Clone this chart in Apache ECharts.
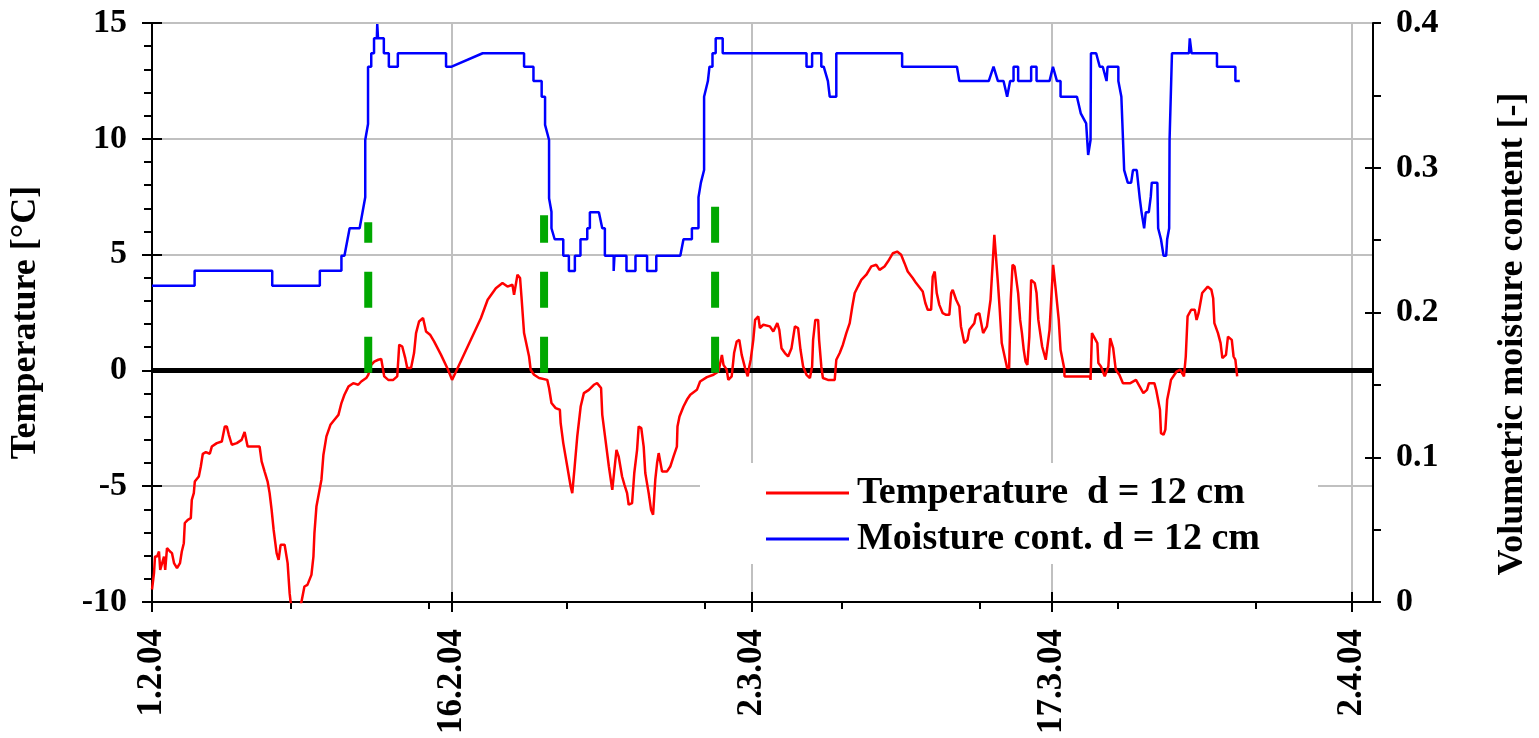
<!DOCTYPE html>
<html><head><meta charset="utf-8">
<script src="https://cdn.jsdelivr.net/npm/echarts@6.0.0/dist/echarts.min.js"></script>
<style>html,body{margin:0;padding:0;background:#fff}#chart{width:1539px;height:738px}</style>
</head><body><div id="chart"></div>
<script>
// ---- data (x in days since 1.2.04) ----
const xTickDays = [0, 15, 30, 45, 60];
const xTickLabels = ['1.2.04', '16.2.04', '2.3.04', '17.3.04', '2.4.04'];
const xMinorTickDays = [6.95, 13.85, 20.75, 27.65, 34.5, 41.4, 48.3, 55.2];
const X_MAX = 61.04;
const seriesNames = ['Temperature  d = 12 cm', 'Moisture cont. d = 12 cm'];

const temperature = [
[0,-9.46],[0.10,-8.75],[0.15,-8.04],[0.25,-8.04],[0.35,-7.82],[0.41,-8.61],[0.50,-8.61],[0.60,-8.04],[0.66,-8.61],[0.75,-7.67],[0.90,-7.82],[1.00,-7.89],[1.10,-8.32],[1.25,-8.54],[1.40,-8.32],[1.49,-7.82],[1.59,-7.46],[1.64,-6.59],[1.79,-6.45],[1.94,-6.38],[1.99,-5.59],[2.09,-5.30],[2.14,-4.80],[2.34,-4.58],[2.44,-4.15],[2.54,-3.60],[2.69,-3.53],[2.89,-3.60],[2.99,-3.29],[3.24,-3.14],[3.49,-3.07],[3.64,-2.42],[3.74,-2.42],[3.84,-2.78],[3.99,-3.21],[4.24,-3.14],[4.48,-3.00],[4.63,-2.66],[4.78,-3.29],[5.38,-3.29],[5.48,-3.93],[5.63,-4.37],[5.78,-4.80],[5.88,-5.30],[5.98,-6.02],[6.08,-6.88],[6.23,-7.89],[6.33,-8.18],[6.43,-7.53],[6.63,-7.53],[6.78,-8.32],[6.88,-9.62],[6.93,-10.0],[7.08,-10.4],[7.32,-10.4],[7.47,-10.0],[7.62,-9.33],[7.77,-9.26],[7.97,-8.83],[8.07,-8.04],[8.12,-7.03],[8.22,-5.88],[8.47,-4.72],[8.57,-3.64],[8.72,-2.85],[8.92,-2.35],[9.12,-2.13],[9.32,-1.92],[9.47,-1.41],[9.62,-1.05],[9.82,-0.70],[10.06,-0.55],[10.31,-0.62],[10.46,-0.48],[10.71,-0.33],[10.81,-0.19],[10.96,0.24],[11.11,0.38],[11.31,0.46],[11.46,0.49],[11.61,-0.26],[11.81,-0.41],[12.06,-0.41],[12.26,-0.26],[12.36,1.11],[12.51,1.03],[12.66,0.53],[12.76,0.10],[12.95,0.10],[13.10,0.75],[13.20,1.61],[13.35,2.11],[13.55,2.26],[13.70,1.68],[13.90,1.54],[14.10,1.25],[14.45,0.67],[14.80,0.03],[15.00,-0.41],[15.20,-0.05],[16.44,2.25],[16.78,3.05],[17.19,3.55],[17.52,3.77],[17.77,3.62],[18.02,3.70],[18.10,3.26],[18.27,4.13],[18.40,3.99],[18.47,3.19],[18.60,1.61],[18.85,0.60],[18.93,0.03],[19.10,-0.19],[19.35,-0.33],[19.76,-0.41],[19.85,-0.76],[19.97,-1.41],[20.18,-1.63],[20.39,-1.70],[20.43,-2.28],[20.56,-3.14],[20.76,-4.15],[20.93,-5.01],[21.01,-5.30],[21.13,-4.15],[21.26,-2.85],[21.43,-1.56],[21.59,-0.98],[21.84,-0.84],[22.09,-0.62],[22.25,-0.55],[22.45,-0.76],[22.51,-1.92],[22.67,-3.00],[22.84,-4.15],[23.01,-5.16],[23.08,-5.23],[23.22,-3.43],[23.28,-3.35],[23.33,-3.72],[23.50,-4.58],[23.62,-4.94],[23.75,-5.30],[23.83,-5.80],[24.00,-5.73],[24.11,-4.43],[24.25,-3.43],[24.33,-2.42],[24.46,-2.49],[24.58,-3.29],[24.66,-4.43],[24.83,-5.30],[24.95,-6.02],[25.05,-6.23],[25.16,-4.72],[25.25,-4.00],[25.33,-3.57],[25.41,-3.64],[25.50,-4.37],[25.74,-4.37],[25.91,-4.15],[26.07,-3.72],[26.24,-3.29],[26.27,-2.42],[26.37,-1.99],[26.57,-1.56],[26.74,-1.27],[26.91,-1.05],[27.24,-0.84],[27.40,-0.48],[27.74,-0.29],[28.07,-0.19],[28.32,-0.05],[28.49,0.67],[28.57,0.24],[28.73,0.03],[28.81,-0.41],[28.98,-0.26],[29.10,0.75],[29.23,1.25],[29.36,1.32],[29.48,0.67],[29.65,0.10],[29.78,-0.26],[29.86,0.17],[29.93,0.46],[30.06,1.32],[30.15,2.18],[30.31,2.33],[30.39,1.83],[30.56,1.97],[30.89,1.90],[31.06,1.68],[31.26,2.04],[31.36,1.75],[31.47,0.96],[31.64,0.75],[31.80,0.60],[31.97,0.96],[32.14,1.90],[32.30,1.83],[32.42,0.89],[32.55,0.17],[32.72,-0.19],[32.89,-0.33],[33.00,0.17],[33.05,1.32],[33.16,2.18],[33.30,2.18],[33.35,1.32],[33.46,0.17],[33.54,-0.33],[33.79,-0.41],[34.13,-0.41],[34.21,0.46],[34.38,0.75],[34.54,1.11],[34.71,1.61],[34.88,2.04],[35.01,2.76],[35.13,3.34],[35.29,3.62],[35.46,3.91],[35.71,4.13],[35.96,4.49],[36.21,4.56],[36.37,4.34],[36.62,4.49],[36.79,4.70],[37.04,5.06],[37.25,5.13],[37.45,4.99],[37.62,4.63],[37.78,4.27],[38.03,3.99],[38.20,3.77],[38.53,3.41],[38.66,2.91],[38.78,2.62],[38.95,2.62],[39.03,4.05],[39.13,4.27],[39.23,3.34],[39.36,2.83],[39.53,2.47],[39.70,2.40],[39.86,2.40],[39.95,3.34],[40.03,3.48],[40.20,3.05],[40.36,2.76],[40.44,1.90],[40.61,1.18],[40.77,1.32],[40.86,1.75],[41.11,2.04],[41.19,2.40],[41.36,2.47],[41.55,1.61],[41.74,1.90],[41.92,3.05],[42.11,5.85],[42.29,3.77],[42.38,2.62],[42.48,1.18],[42.66,0.46],[42.75,0.10],[42.85,0.10],[42.93,3.05],[43.02,4.56],[43.12,4.49],[43.30,3.34],[43.40,2.18],[43.49,1.61],[43.58,0.89],[43.67,0.38],[43.76,0.24],[43.86,1.46],[43.95,3.91],[44.13,3.77],[44.22,3.34],[44.31,2.18],[44.50,1.03],[44.68,0.46],[44.87,1.75],[45.05,4.56],[45.18,3.48],[45.33,2.18],[45.42,0.89],[45.60,0.10],[45.62,-0.26],[46.89,-0.26],[46.92,-0.41],[46.99,1.61],[47.07,1.68],[47.26,1.18],[47.31,0.32],[47.44,0.17],[47.63,-0.26],[47.81,0.17],[47.90,1.39],[48.05,0.96],[48.18,0.03],[48.36,-0.19],[48.54,-0.55],[48.91,-0.55],[49.19,-0.41],[49.38,-0.70],[49.56,-0.98],[49.74,-0.84],[49.84,-0.55],[50.11,-0.55],[50.20,-0.84],[50.39,-1.70],[50.44,-2.71],[50.57,-2.78],[50.66,-2.56],[50.75,-1.27],[50.85,-0.84],[50.94,-0.41],[51.22,-0.05],[51.40,0.03],[51.59,-0.26],[51.68,0.60],[51.77,2.33],[51.95,2.62],[52.13,2.62],[52.22,2.18],[52.32,2.47],[52.50,3.34],[52.78,3.62],[52.96,3.48],[53.05,3.12],[53.11,2.04],[53.29,1.61],[53.42,1.18],[53.51,0.53],[53.69,0.67],[53.79,1.46],[53.98,1.32],[54.07,0.60],[54.16,0.46],[54.25,-0.26]
];

const moisture = [
[0,0.2185],[2.13,0.2185],[2.13,0.2289],[6.01,0.2289],[6.01,0.2185],[8.39,0.2185],[8.39,0.2289],[9.47,0.2289],[9.47,0.2392],[9.62,0.2392],[9.88,0.2582],[10.38,0.2582],[10.66,0.2796],[10.66,0.3192],[10.80,0.3302],[10.80,0.3698],[10.96,0.3698],[10.96,0.3791],[11.10,0.3791],[11.10,0.3894],[11.24,0.3894],[11.26,0.3993],[11.30,0.3894],[11.59,0.3894],[11.59,0.3791],[11.84,0.3791],[11.84,0.3698],[12.29,0.3698],[12.29,0.3791],[14.70,0.3791],[14.70,0.3698],[14.98,0.3698],[16.53,0.3791],[18.60,0.3791],[18.60,0.3698],[19.07,0.3698],[19.07,0.3599],[19.48,0.3599],[19.48,0.3491],[19.65,0.3491],[19.65,0.3296],[19.85,0.3192],[19.85,0.2789],[19.97,0.2696],[19.97,0.2582],[20.13,0.2506],[20.56,0.2506],[20.56,0.2392],[20.84,0.2392],[20.84,0.2287],[21.14,0.2287],[21.14,0.2392],[21.42,0.2392],[21.42,0.2506],[21.76,0.2506],[21.76,0.2582],[21.89,0.2582],[21.89,0.2692],[22.34,0.2692],[22.51,0.2582],[22.64,0.2582],[22.64,0.2392],[23.08,0.2392],[23.08,0.2287],[23.12,0.2392],[23.72,0.2392],[23.72,0.2287],[24.17,0.2287],[24.17,0.2392],[24.75,0.2392],[24.75,0.2287],[25.21,0.2287],[25.21,0.2392],[26.41,0.2392],[26.57,0.2506],[26.99,0.2506],[26.99,0.2582],[27.32,0.2582],[27.32,0.2796],[27.44,0.2897],[27.60,0.2984],[27.60,0.3491],[27.79,0.3599],[27.87,0.3698],[28.02,0.3698],[28.02,0.3791],[28.18,0.3791],[28.18,0.3894],[28.53,0.3894],[28.53,0.3791],[32.72,0.3791],[32.72,0.3698],[33.00,0.3698],[33.00,0.3791],[33.46,0.3791],[33.46,0.3698],[33.58,0.3698],[33.79,0.3599],[33.88,0.3599],[33.88,0.3491],[34.21,0.3491],[34.21,0.3791],[37.50,0.3791],[37.50,0.3698],[40.24,0.3698],[40.36,0.3599],[41.83,0.3599],[42.07,0.3698],[42.29,0.3599],[42.57,0.3599],[42.75,0.3491],[42.90,0.3599],[43.07,0.3599],[43.07,0.3698],[43.30,0.3698],[43.30,0.3599],[43.95,0.3599],[43.95,0.3698],[44.22,0.3698],[44.22,0.3599],[44.87,0.3599],[45.04,0.3698],[45.24,0.3599],[45.42,0.3599],[45.42,0.3491],[46.24,0.3491],[46.43,0.3376],[46.70,0.3307],[46.80,0.3088],[46.92,0.3192],[46.94,0.3791],[47.20,0.3791],[47.38,0.3698],[47.53,0.3698],[47.72,0.3599],[47.77,0.3698],[48.31,0.3698],[48.31,0.3599],[48.46,0.3491],[48.55,0.3491],[48.60,0.2984],[48.78,0.2897],[48.95,0.2897],[49.04,0.2984],[49.23,0.2984],[49.38,0.2789],[49.47,0.2692],[49.60,0.2582],[49.68,0.2692],[49.83,0.2692],[49.93,0.2800],[49.98,0.2897],[50.26,0.2897],[50.30,0.2582],[50.44,0.2506],[50.57,0.2392],[50.70,0.2392],[50.75,0.2506],[50.85,0.2582],[50.87,0.3192],[50.99,0.3791],[51.84,0.3791],[51.88,0.3894],[51.97,0.3791],[53.24,0.3791],[53.24,0.3698],[54.16,0.3698],[54.16,0.3599],[54.38,0.3599]
];

const markerDays = [10.81, 19.6, 28.15];
const markerTops = [6.4, 6.7, 7.1];
const markerBottom = -0.1;

// ---- chart ----
const FONT = "'Liberation Serif', 'Times New Roman', serif";
const BLACK = '#000000';
const GRID_GRAY = '#c0c0c0';
const tickLine = { color: BLACK, width: 2 };
const txt = (size) => ({ fontFamily: FONT, fontWeight: 'bold', fontSize: size, color: BLACK });

const chart = echarts.init(document.getElementById('chart'), null, { renderer: 'canvas' });

const hiddenX = (vals, inside, len) => ({
  type: 'value', min: 0, max: X_MAX, position: 'bottom',
  axisLine: { show: false, onZero: false },
  axisTick: { show: true, customValues: vals, inside: inside, length: len, lineStyle: tickLine },
  axisLabel: { show: false }, splitLine: { show: false }
});

const option = {
  animation: false,
  backgroundColor: '#ffffff',
  grid: { left: 150, right: 164, top: 23, bottom: 136, show: true, borderColor: BLACK, borderWidth: 2, backgroundColor: 'transparent' },
  xAxis: [
    {
      type: 'value', min: 0, max: X_MAX, interval: 15, position: 'bottom',
      axisLine: { show: true, onZero: false, lineStyle: { color: BLACK, width: 2 } },
      axisTick: { show: true, customValues: xTickDays, length: 10, lineStyle: tickLine },
      axisLabel: {
        show: true, customValues: xTickDays, rotate: 90, margin: 27,
        formatter: (v) => { const i = xTickDays.indexOf(Math.round(v * 100) / 100); return i >= 0 ? xTickLabels[i] : ''; },
        ...txt(35)
      },
      splitLine: { show: true, lineStyle: { color: GRID_GRAY, width: 2 } }
    },
    hiddenX(xTickDays, true, 10),
    hiddenX(xMinorTickDays, false, 7)
  ],
  yAxis: [
    {
      type: 'value', position: 'left', min: -10, max: 15, interval: 5,
      axisLine: { show: true, onZero: false, lineStyle: { color: BLACK, width: 2 } },
      axisTick: { show: true, length: 10, lineStyle: tickLine },
      minorTick: { show: true, splitNumber: 5, length: 8, lineStyle: tickLine },
      axisLabel: { margin: 25, ...txt(34) },
      splitLine: { show: true, lineStyle: { color: GRID_GRAY, width: 2 } },
      name: 'Temperature [°C]', nameLocation: 'middle', nameRotate: 90, nameGap: 108,
      nameTextStyle: { ...txt(36), padding: [0, 20, 0, 0] }
    },
    {
      type: 'value', position: 'left', min: -10, max: 15, interval: 5,
      axisLine: { show: false, onZero: false },
      axisTick: { show: true, inside: true, length: 10, lineStyle: tickLine },
      axisLabel: { show: false }, splitLine: { show: false }
    },
    {
      type: 'value', position: 'right', min: 0, max: 0.4, interval: 0.1,
      axisLine: { show: true, onZero: false, lineStyle: { color: BLACK, width: 2 } },
      axisTick: { show: true, length: 8, lineStyle: tickLine },
      minorTick: { show: true, splitNumber: 2, length: 8, lineStyle: tickLine },
      axisLabel: { margin: 23, ...txt(34) },
      splitLine: { show: false },
      name: 'Volumetric moisture content [-]', nameLocation: 'middle', nameRotate: 90, nameGap: 122,
      nameTextStyle: { ...txt(36), padding: [0, 43, 0, 0] }
    },
    {
      type: 'value', position: 'right', min: 0, max: 0.4, interval: 0.1,
      axisLine: { show: false, onZero: false },
      axisTick: { show: true, customValues: [0.1, 0.2, 0.3], inside: true, length: 8, lineStyle: tickLine },
      axisLabel: { show: false }, splitLine: { show: false }
    }
  ],
  legend: {
    orient: 'vertical', left: 766, top: 474, padding: 0,
    itemWidth: 83, itemHeight: 3, itemGap: 8, icon: 'rect', selectedMode: false,
    data: seriesNames,
    textStyle: { ...txt(38), padding: [0, 0, 0, 3] }
  },
  graphic: [
    { type: 'rect', shape: { x: 700, y: 463, width: 618, height: 101 }, style: { fill: '#ffffff' }, z: 3, silent: true }
  ],
  series: [
    {
      type: 'line', name: 'zero', data: [[0, 0], [X_MAX, 0]], xAxisIndex: 0, yAxisIndex: 0,
      symbol: 'none', silent: true, z: 1,
      lineStyle: { color: BLACK, width: 5 }
    },
    {
      type: 'line', name: seriesNames[0], data: temperature, xAxisIndex: 0, yAxisIndex: 0,
      symbol: 'none', showSymbol: false, z: 2, clip: true,
      lineStyle: { color: '#ff0000', width: 2.5 }, itemStyle: { color: '#ff0000' }
    },
    {
      type: 'line', name: seriesNames[1], data: moisture, xAxisIndex: 0, yAxisIndex: 2,
      symbol: 'none', showSymbol: false, z: 2,
      lineStyle: { color: '#0000ff', width: 2.5 }, itemStyle: { color: '#0000ff' }
    },
    ...markerDays.map((d, i) => ({
      type: 'line', name: 'marker' + i, data: [[d, markerBottom], [d, markerTops[i]]],
      xAxisIndex: 0, yAxisIndex: 0, symbol: 'none', silent: true, z: 3,
      lineStyle: { color: '#00a800', width: 8, type: [36, 29] }
    }))
  ]
};
chart.setOption(option);
</script>
</body></html>
